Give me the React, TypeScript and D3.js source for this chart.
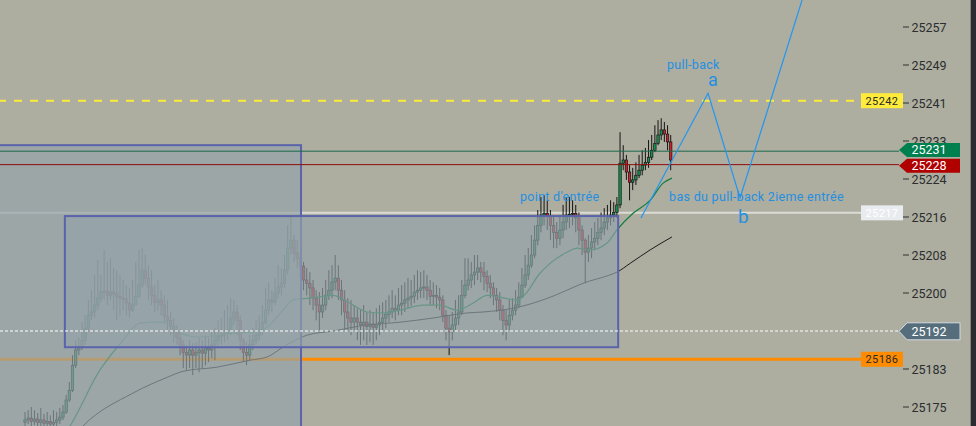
import React from "react";
import * as d3 from "d3";

// ---- candle data (price units) ----
const firstOpen = 25171.9;
const closes = [
  25172.4, 25172.8, 25172.1, 25172.6, 25171.9, 25172.4, 25171.7, 25172.1, 25171.5, 25171.9,
  25172.4, 25173.0, 25174.1, 25176.7, 25178.8, 25184.2, 25187.5, 25188.3, 25189.6, 25192.2,
  25195.0, 25195.7, 25197.2, 25198.7, 25200.0, 25200.2, 25199.3, 25200.0, 25199.6, 25199.1,
  25198.7, 25198.5, 25197.6, 25196.1, 25197.2, 25199.1, 25201.5, 25204.7, 25203.0, 25201.1,
  25199.3, 25197.8, 25198.3, 25197.2, 25194.8, 25193.9, 25192.6, 25191.4, 25190.1, 25188.6,
  25187.0, 25186.4, 25187.5, 25186.4, 25187.0, 25187.5, 25186.8, 25187.9, 25187.5, 25188.6,
  25189.6, 25190.5, 25190.7, 25191.1, 25191.8, 25194.4, 25195.7, 25193.9, 25189.6, 25187.0,
  25186.4, 25188.6, 25189.6, 25190.7, 25191.8, 25193.5, 25196.1, 25198.3, 25197.8, 25199.8,
  25201.1, 25201.9, 25204.7, 25209.5, 25211.2, 25208.4, 25207.3, 25205.6, 25202.6, 25201.9,
  25200.9, 25198.7, 25197.2, 25195.7, 25197.2, 25199.3, 25200.4, 25202.2, 25203.0, 25200.4,
  25198.3, 25195.7, 25194.4, 25193.5, 25194.4, 25193.5, 25192.9, 25193.5, 25192.6, 25193.1,
  25192.4, 25192.9, 25193.5, 25194.4, 25195.2, 25195.7, 25196.5, 25196.1, 25197.2, 25197.6,
  25198.3, 25198.7, 25199.1, 25200.0, 25200.4, 25200.9, 25201.1, 25200.4, 25199.1, 25199.3,
  25198.9, 25198.3, 25195.0, 25192.2, 25191.4, 25192.9, 25194.4, 25195.7, 25199.3, 25201.5,
  25202.6, 25203.7, 25204.3, 25205.2, 25204.3, 25203.4, 25201.9, 25200.9, 25199.3, 25198.3,
  25196.1, 25193.9, 25192.9, 25195.0, 25196.1, 25197.2, 25198.9, 25201.5, 25203.7, 25205.8,
  25208.0, 25211.2, 25214.4, 25216.6, 25217.0, 25216.4, 25214.4, 25212.9, 25211.6, 25213.4,
  25215.1, 25216.6, 25216.8, 25217.0, 25216.0, 25213.4, 25211.2, 25208.6, 25209.5, 25210.8,
  25211.6, 25212.9, 25213.8, 25215.1, 25216.0, 25216.6, 25217.2, 25218.8, 25227.8, 25228.5,
  25225.9, 25223.7, 25224.2, 25225.2, 25226.3, 25227.4, 25228.0, 25229.1, 25230.6, 25232.1,
  25233.9, 25235.0, 25234.1, 25232.4, 25228.5,
];
const highs = [
  25174.1, 25174.5, 25175.2, 25174.5, 25173.9, 25175.0, 25173.7, 25174.1, 25173.4, 25174.5,
  25174.1, 25175.0, 25175.6, 25177.8, 25180.6, 25186.4, 25189.6, 25190.1, 25193.5, 25195.0,
  25198.3, 25200.4, 25203.7, 25206.9, 25203.7, 25209.1, 25206.5, 25207.3, 25205.2, 25204.7,
  25203.7, 25202.6, 25201.5, 25200.9, 25202.6, 25206.5, 25209.1, 25209.5, 25208.0, 25205.8,
  25204.7, 25201.5, 25202.6, 25200.4, 25199.3, 25198.3, 25195.7, 25194.4, 25192.9, 25191.8,
  25189.6, 25188.6, 25189.6, 25189.0, 25189.2, 25190.1, 25189.6, 25190.7, 25190.1, 25191.8,
  25192.2, 25193.9, 25194.4, 25196.1, 25197.2, 25198.7, 25198.3, 25197.2, 25195.0, 25190.1,
  25189.2, 25190.7, 25192.2, 25193.9, 25195.0, 25197.2, 25200.9, 25202.1, 25200.4, 25203.0,
  25205.8, 25205.2, 25208.0, 25214.4, 25216.2, 25212.3, 25211.2, 25209.5, 25206.5, 25205.2,
  25204.3, 25202.6, 25200.4, 25200.0, 25200.9, 25202.6, 25204.7, 25205.8, 25208.0, 25205.8,
  25202.6, 25200.4, 25198.7, 25198.3, 25197.2, 25196.5, 25196.1, 25197.2, 25195.7, 25196.1,
  25195.7, 25196.5, 25197.2, 25197.8, 25198.3, 25199.3, 25200.4, 25199.3, 25200.9, 25201.5,
  25202.1, 25203.0, 25202.6, 25203.7, 25204.7, 25204.3, 25204.7, 25203.7, 25202.6, 25202.1,
  25201.5, 25200.9, 25199.3, 25196.1, 25195.0, 25195.7, 25198.3, 25199.3, 25202.6, 25207.3,
  25207.3, 25206.5, 25208.0, 25208.0, 25206.5, 25206.5, 25204.7, 25203.7, 25202.1, 25200.9,
  25200.0, 25197.2, 25196.1, 25198.3, 25198.7, 25200.4, 25202.1, 25205.2, 25208.0, 25209.5,
  25212.3, 25214.4, 25217.7, 25220.5, 25220.9, 25219.8, 25217.7, 25216.6, 25215.1, 25216.6,
  25218.8, 25220.3, 25220.5, 25219.8, 25218.8, 25217.2, 25214.4, 25211.6, 25212.3, 25213.8,
  25215.1, 25216.0, 25217.2, 25218.1, 25218.8, 25219.8, 25219.4, 25220.5, 25234.5, 25231.7,
  25229.6, 25227.4, 25226.8, 25228.0, 25229.6, 25230.6, 25231.1, 25232.8, 25233.9, 25236.0,
  25237.1, 25237.5, 25236.7, 25236.0, 25233.9,
];
const lows = [
  25171.1, 25171.5, 25171.1, 25171.3, 25170.6, 25171.1, 25170.6, 25170.9, 25170.2, 25170.9,
  25171.1, 25171.5, 25172.4, 25173.7, 25176.3, 25178.4, 25183.6, 25186.4, 25187.5, 25188.6,
  25191.4, 25193.9, 25194.4, 25196.1, 25197.8, 25198.3, 25197.2, 25198.3, 25196.1, 25193.9,
  25195.0, 25196.1, 25195.0, 25194.4, 25195.7, 25197.8, 25198.7, 25200.9, 25201.5, 25198.3,
  25197.2, 25195.7, 25196.1, 25195.0, 25193.5, 25191.8, 25190.7, 25189.2, 25188.6, 25186.4,
  25183.6, 25183.2, 25183.6, 25182.1, 25183.6, 25182.7, 25183.6, 25184.2, 25184.9, 25185.7,
  25185.3, 25187.9, 25188.6, 25189.2, 25189.6, 25190.7, 25192.9, 25190.7, 25187.5, 25184.9,
  25184.2, 25185.3, 25187.5, 25188.6, 25189.6, 25190.7, 25192.9, 25195.0, 25195.7, 25197.2,
  25198.7, 25199.3, 25200.9, 25203.7, 25208.0, 25206.5, 25205.2, 25203.0, 25200.4, 25199.3,
  25197.2, 25196.1, 25193.9, 25191.8, 25194.4, 25196.1, 25198.3, 25198.7, 25200.4, 25198.3,
  25195.0, 25191.8, 25191.4, 25190.7, 25191.8, 25189.6, 25188.6, 25189.6, 25188.6, 25189.2,
  25188.6, 25189.6, 25190.7, 25191.8, 25192.2, 25193.5, 25194.4, 25193.9, 25195.0, 25195.0,
  25195.7, 25196.5, 25197.0, 25197.6, 25198.3, 25198.7, 25198.7, 25198.3, 25197.2, 25197.2,
  25196.5, 25196.1, 25193.5, 25189.6, 25186.4, 25189.6, 25191.8, 25192.9, 25195.0, 25198.7,
  25200.4, 25200.9, 25201.5, 25202.6, 25202.1, 25200.4, 25200.0, 25198.7, 25197.2, 25195.7,
  25193.9, 25190.7, 25189.6, 25191.8, 25193.9, 25195.0, 25196.5, 25198.7, 25200.9, 25202.6,
  25205.2, 25207.3, 25210.1, 25212.9, 25214.4, 25213.4, 25211.2, 25209.5, 25209.5, 25210.1,
  25211.6, 25213.4, 25213.8, 25214.4, 25212.9, 25210.1, 25208.0, 25201.9, 25206.5, 25207.3,
  25209.1, 25210.1, 25211.2, 25212.3, 25213.4, 25214.4, 25215.1, 25216.0, 25218.1, 25226.3,
  25224.2, 25219.8, 25222.0, 25223.1, 25224.6, 25225.2, 25226.3, 25226.8, 25228.5, 25230.2,
  25231.7, 25232.8, 25232.4, 25230.6, 25226.3,
];

// moving averages: [bar index, price]
const fastMA: [number, number][] = [
  [11, 25168.0], [14.2, 25171.1], [23.7, 25183.2], [28.4, 25187.5], [31, 25189.6], [36.3, 25193.3],
  [41.7, 25193.5], [44.9, 25193.3], [49, 25191.1], [55.3, 25190.3], [65.7, 25191.1], [72, 25191.4],
  [76.5, 25192.4], [81.5, 25196.1], [84.7, 25198.3], [90, 25198.7], [97.3, 25199.3], [102.7, 25197.6],
  [108, 25195.7], [113.1, 25195.5], [118.5, 25196.1], [125.8, 25197.2], [131.1, 25197.2], [136.5, 25196.1],
  [141.5, 25197.6], [146, 25199.3], [150, 25198.9], [155.5, 25198.3], [158, 25199.5], [162.5, 25203.9],
  [165.9, 25206.2], [171.2, 25208.6], [174.4, 25209.5], [178.5, 25209.1], [183.9, 25210.6], [187, 25213.4],
  [192.1, 25217.0], [197.5, 25219.8], [201.6, 25223.5], [204.4, 25224.6],
];
const slowMA: [number, number][] = [
  [14.2, 25168.0], [18.3, 25171.1], [34.1, 25178.2], [44.9, 25181.6], [49.9, 25182.9], [60.7, 25183.8],
  [71.1, 25185.3], [76.5, 25186.0], [81.5, 25188.1], [86.9, 25190.1], [89.1, 25190.7], [97.3, 25191.6],
  [108, 25192.9], [118.5, 25193.5], [128.9, 25194.4], [139.7, 25195.5], [144.7, 25195.7], [155.5, 25196.7],
  [160.5, 25197.6], [167.5, 25199.3], [171.2, 25200.4], [176.3, 25201.9], [184.8, 25203.7], [187, 25204.3],
  [191.2, 25206.2], [197.5, 25209.1], [204.4, 25211.9],
];

// price scale ticks
const priceTicks = [25175.2, 25183.4, 25191.6, 25199.8, 25208.0, 25216.2, 25224.4, 25232.6, 25240.8, 25249.0, 25257.2];

// horizontal levels
const levelNames = ["resistance", "ask", "bid", "breakout", "last", "support"];
const levelValues = [25241.3, 25230.4, 25227.5, 25217.1, 25191.6, 25185.5];
const levelLabels = ["25242", "25231", "25228", "25217", "25192", "25186"];

// zones: [start bar, end bar, top price, bottom price]
const zoneStart = [-20, 12.6];
const zoneEnd = [87.2, 187.4];
const zoneTop = [25231.7, 25216.4];
const zoneBottom = [25150.0, 25188.1];

// projected pull-back path: [bar index, price]
const pullbackPath: [number, number][] = [[194.6, 25216.0], [215.8, 25242.9], [225.9, 25220.3], [245.5, 25263.0]];

export default function App() {
  const W = 976, H = 426;
  const x = d3.scaleLinear().domain([0, 204]).range([25, 670.7]);
  const y = d3.scaleLinear().domain([25175.2, 25257.2]).range([407, 27]);
  const fmt = d3.format(".0f");
  const maLine = d3.line<[number, number]>().x(d => x(d[0])).y(d => y(d[1])).curve(d3.curveMonotoneX);
  const pathLine = d3.line<[number, number]>().x(d => x(d[0])).y(d => y(d[1]));

  const candles = closes.map((c, i) => ({ i, o: i === 0 ? firstOpen : closes[i - 1], c, h: highs[i], l: lows[i] }));

  const styles: Record<string, any> = {
    resistance: { stroke: "#ffeb3b", w: 2, dash: "8 8", off: 2, end: 855, flag: "#ffeb3b", text: "#2a2a2a" },
    ask: { stroke: "#1b6b4c", w: 1, end: 899, pointer: "#00804f", text: "#ffffff", dy: -1.3, h: 14 },
    bid: { stroke: "#8e0c0c", w: 1, end: 899, pointer: "#b00000", text: "#ffffff", dy: 1.2, h: 14 },
    breakout: { stroke: "#dcdcd6", w: 2, end: 861, flag: "#e9ecef", text: "#ffffff" },
    last: { stroke: "#ffffff", w: 1, dash: "3 2", end: 899, pointer: "#566e7c", border: "#d5dbe0", text: "#ffffff", dy: 0.3, h: 17 },
    support: { stroke: "#ff8c00", w: 3, end: 861, flag: "#ff8c00", text: "#2a2a2a" },
  };
  const under = ["breakout", "support"];
  const over = ["resistance", "ask", "bid", "last"];

  const lineFor = (name: string) => {
    const k = levelNames.indexOf(name);
    const s = styles[name];
    const yy = y(levelValues[k]);
    return <line key={name} x1={0} x2={s.end} y1={yy} y2={yy} stroke={s.stroke} strokeWidth={s.w}
      strokeDasharray={s.dash} strokeDashoffset={s.off} />;
  };

  const annoColor = "#2390e0";
  const textFont = "Roboto, 'Noto Sans', sans-serif";

  return (
    <svg width={W} height={H} style={{ position: "absolute", left: 0, top: 0, display: "block" }} fontFamily={textFont}>
      <rect width={W} height={H} fill="#adada0" />
      {under.map(lineFor)}
      {/* candles */}
      <g>
        {candles.map(d => {
          const cx = x(d.i);
          const up = d.c >= d.o;
          const yt = y(Math.max(d.o, d.c));
          const yb = y(Math.min(d.o, d.c));
          return (
            <g key={d.i}>
              <line x1={cx} x2={cx} y1={y(d.h)} y2={y(d.l)} stroke="#151515" strokeWidth={1} />
              <rect x={cx - 1.2} width={2.4} y={yt} height={Math.max(1, yb - yt)}
                fill={up ? "#16914f" : "#d3202a"} stroke="#151515" strokeWidth={0.7} />
            </g>
          );
        })}
      </g>
      <path d={maLine(slowMA) || ""} fill="none" stroke="#1c1c1c" strokeWidth={1} />
      <path d={maLine(fastMA) || ""} fill="none" stroke="#0f7d3c" strokeWidth={1.2} />
      {/* zones */}
      {zoneStart.map((s, k) => (
        <rect key={k} x={x(s)} width={x(zoneEnd[k]) - x(s)} y={y(zoneTop[k])} height={y(zoneBottom[k]) - y(zoneTop[k])}
          fill="rgb(147,162,169)" fillOpacity={0.68} stroke="#5a63ab" strokeWidth={2} />
      ))}
      {over.map(lineFor)}
      {/* annotations */}
      <path d={pathLine(pullbackPath) || ""} fill="none" stroke="#2196f3" strokeWidth={1.2} />
      <text x={x(156.4)} y={y(25219.7)} fontSize={12.5} letterSpacing={0.3} fill={annoColor}>point d'entrée</text>
      <text x={x(202.8)} y={y(25248.2)} fontSize={12.5} letterSpacing={0.3} fill={annoColor}>pull-back</text>
      <text x={x(215.8)} y={y(25244.5)} fontSize={18} fill={annoColor}>a</text>
      <text x={x(203.5)} y={y(25219.6)} fontSize={12.5} letterSpacing={0.3} fill={annoColor}>bas du pull-back 2ieme entrée</text>
      <text x={x(225.3)} y={y(25214.9)} fontSize={19} fill={annoColor}>b</text>
      {/* price axis */}
      {priceTicks.map(t => (
        <g key={t}>
          <line x1={903} x2={909} y1={y(t)} y2={y(t)} stroke="#333" strokeWidth={1} />
          <text x={911.5} y={y(t)} dy="0.36em" fontSize={12.5} fill="#2b2d2f">{fmt(t)}</text>
        </g>
      ))}
      {/* level labels */}
      {levelNames.map((name, k) => {
        const s = styles[name];
        const yy = y(levelValues[k]);
        if (s.flag) {
          return (
            <g key={name}>
              <rect x={861} y={yy - 7.5} width={42} height={15} fill={s.flag} />
              <text x={882} y={yy} dy="0.36em" textAnchor="middle" fontSize={11} letterSpacing={0.4} fill={s.text}>{levelLabels[k]}</text>
            </g>
          );
        }
        const cy = yy + s.dy;
        const hh = s.h / 2;
        return (
          <g key={name}>
            <path d={`M899,${cy} L907,${cy - hh} L960,${cy - hh} L960,${cy + hh} L907,${cy + hh} Z`} fill={s.pointer}
              stroke={s.border || "none"} strokeWidth={s.border ? 1 : 0} />
            <text x={911.5} y={cy} dy="0.36em" fontSize={12.5} fill={s.text}>{levelLabels[k]}</text>
          </g>
        );
      })}
      <rect x={970.7} y={0} width={6} height={H} fill="#2a2c30" />
    </svg>
  );
}
